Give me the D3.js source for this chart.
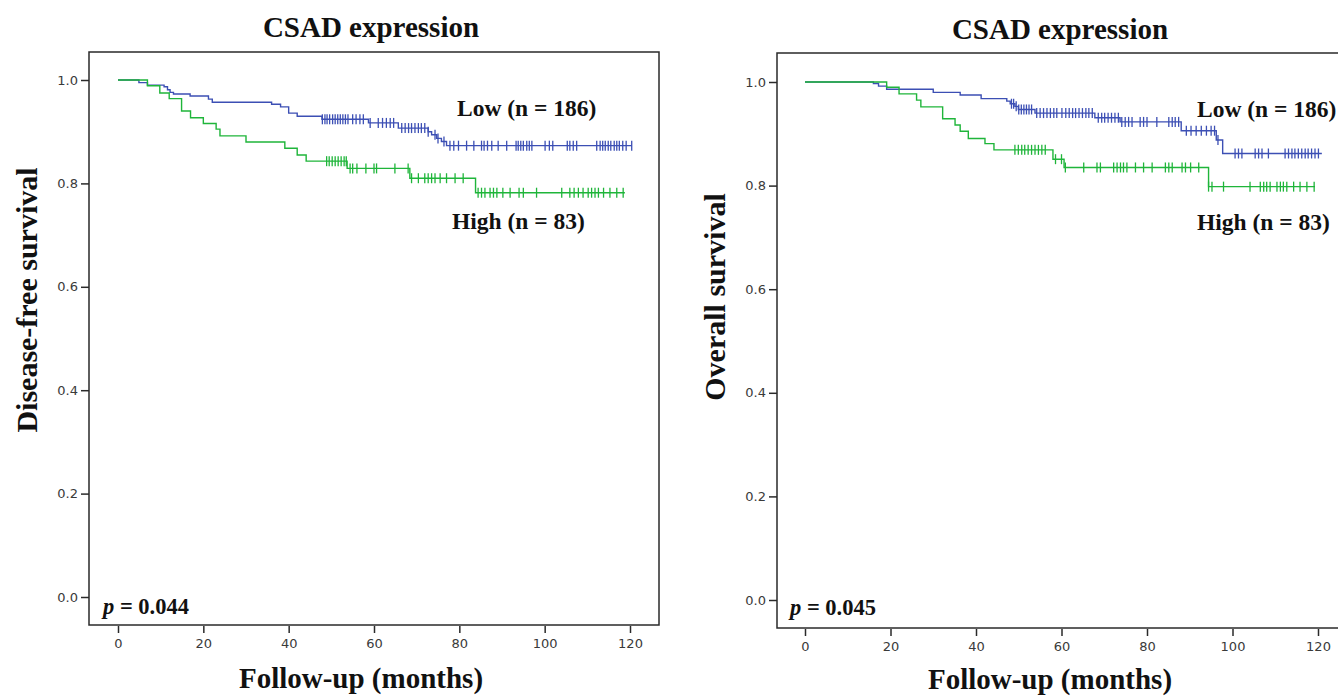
<!DOCTYPE html>
<html>
<head>
<meta charset="utf-8">
<script src="https://cdn.jsdelivr.net/npm/d3@7/dist/d3.min.js"></script>
<style>
  html, body { margin: 0; padding: 0; background: #fff; }
  svg { display: block; }
  .tick-lbl { font-family: "DejaVu Sans", sans-serif; font-size: 13px; fill: #3a3a3a; }
  .serif { font-family: "Liberation Serif", "Times New Roman", serif; font-weight: bold; fill: #111; }
</style>
</head>
<body>
<svg id="chart" width="1338" height="696"></svg>
<script>
// x/y tick values
const xTicks = [0, 20, 40, 60, 80, 100, 120];
const yTicks = [0, 0.2, 0.4, 0.6, 0.8, 1.0];

// Disease-free survival, Low (n = 186)
const dfsLowT = [0, 4.9, 6.9, 10.8, 11.6, 12.2, 13.0, 16.9, 21.2, 22.1, 36.0, 38.1, 40.0, 42.0, 47.8, 58.7, 65.7, 72.7, 73.5, 74.7, 75.8, 77.0];
const dfsLowS = [1.0, 0.995, 0.990, 0.987, 0.981, 0.976, 0.973, 0.969, 0.963, 0.957, 0.953, 0.948, 0.936, 0.930, 0.924, 0.917, 0.907, 0.900, 0.894, 0.887, 0.881, 0.873];
const dfsLowEnd = 120.4;
const dfsLowCens = [47.9, 48.5, 49, 49.6, 50.3, 50.9, 51.5, 52.1, 52.7, 53.3, 53.9, 55, 55.8, 56.7, 57.5, 59.1, 61, 62, 62.9, 63.8, 64.6, 66.5, 67.3, 68.1, 68.8, 69.6, 70.4, 71.1, 71.9, 72.7, 74.3, 75.0, 76.4, 77.8, 78.7, 79.8, 81.7, 83.4, 85.2, 85.8, 86.6, 87.6, 89.1, 91.1, 93.3, 93.8, 94.4, 95, 95.8, 96.4, 97, 100.1, 101.1, 101.9, 105.3, 105.9, 106.7, 107.5, 112.2, 113, 113.6, 114.2, 114.9, 115.5, 116.3, 116.9, 117.5, 118.3, 119.1, 120.4];

// Disease-free survival, High (n = 83)
const dfsHighT = [0, 6.9, 9.8, 12.0, 14.9, 17.0, 20.0, 23.0, 23.9, 30.0, 39.1, 42.0, 44.1, 53.7, 68.4, 83.8];
const dfsHighS = [1.0, 0.989, 0.975, 0.964, 0.940, 0.927, 0.916, 0.905, 0.892, 0.880, 0.868, 0.855, 0.843, 0.829, 0.810, 0.782];
const dfsHighEnd = 118.8;
const dfsHighCens = [48.9, 49.5, 50.2, 50.9, 51.6, 52.3, 53.0, 53.5, 54.4, 55.0, 56.0, 58.1, 60.0, 60.6, 64.9, 68.0, 68.8, 70.4, 71.9, 72.7, 73.5, 74.3, 75.5, 77.0, 79.0, 80.9, 84.4, 85.2, 86.0, 87.2, 88.0, 88.8, 90.2, 91.9, 94.0, 95.0, 98.1, 104.0, 105.9, 106.9, 107.9, 109.0, 110.2, 111.0, 111.8, 112.6, 113.8, 115.3, 116.9, 118.4];

// Overall survival, Low (n = 186)
const osLowT = [0, 16.0, 17.2, 19.1, 30.0, 36.3, 41.2, 47.2, 48.0, 49.1, 49.9, 53.8, 67.8, 73.7, 88.0, 96.2, 97.7];
const osLowS = [1.0, 0.997, 0.992, 0.986, 0.980, 0.975, 0.968, 0.963, 0.958, 0.953, 0.947, 0.940, 0.931, 0.923, 0.906, 0.888, 0.862];
const osLowEnd = 120.9;
const osLowCens = [48.3, 48.8, 49.4, 50.0, 50.6, 51.2, 51.8, 52.4, 53.0, 54.2, 55.0, 55.8, 56.6, 57.4, 58.2, 58.9, 60.1, 61.0, 61.8, 62.6, 63.3, 64.1, 64.9, 65.7, 66.4, 67.2, 68.6, 69.4, 70.1, 70.9, 71.7, 72.5, 73.3, 74.1, 74.9, 75.7, 76.5, 78.4, 79.2, 80.0, 82.3, 85.1, 85.9, 86.6, 87.4, 89.2, 90.3, 91.5, 92.7, 93.9, 95.0, 95.8, 96.6, 100.6, 101.4, 102.2, 105.3, 106.1, 106.9, 108.4, 112.3, 113.1, 113.9, 114.6, 115.4, 116.2, 117.0, 117.7, 118.5, 119.3, 120.1];

// Overall survival, High (n = 83)
const osHighT = [0, 19.1, 22.0, 26.1, 27.1, 32.2, 35.1, 36.3, 38.2, 42.1, 44.2, 58.0, 60.6, 94.4];
const osHighS = [1.0, 0.990, 0.977, 0.965, 0.952, 0.929, 0.917, 0.905, 0.891, 0.881, 0.869, 0.851, 0.835, 0.798];
const osHighEnd = 119.3;
const osHighCens = [49.1, 49.9, 50.7, 51.4, 52.2, 53.0, 53.8, 54.6, 55.4, 56.2, 58.6, 60.0, 60.9, 65.2, 68.3, 69.1, 72.2, 73.0, 73.8, 74.5, 75.3, 77.3, 79.2, 81.2, 84.3, 85.1, 85.9, 88.2, 89.0, 90.2, 92.1, 94.4, 95.2, 97.9, 104.1, 106.5, 107.3, 108.0, 108.8, 110.4, 111.2, 111.9, 112.7, 114.3, 115.8, 117.4, 119.1];

const BLUE = '#3c4fb4', GREEN = '#1fb53a';
const svg = d3.select('#chart');

function panel(p) {
  const g = svg.append('g');
  const x = d3.scaleLinear().domain([0, 120]).range([p.x0, p.x1]);
  const y = d3.scaleLinear().domain([0, 1]).range([p.y0, p.y1]);

  // frame
  g.append('rect').attr('x', p.fx0).attr('y', p.fy0).attr('width', p.fx1 - p.fx0).attr('height', p.fy1 - p.fy0)
    .attr('fill', 'none').attr('stroke', '#2a2a2a').attr('stroke-width', 1.5);

  // y axis
  const ya = g.append('g').attr('transform', `translate(${p.fx0},0)`)
    .call(d3.axisLeft(y).tickValues(yTicks).tickFormat(d3.format('.1f')).tickSize(8).tickPadding(3));
  ya.select('.domain').remove();
  ya.selectAll('line').attr('stroke', '#2a2a2a').attr('stroke-width', 1.5);
  ya.selectAll('text').attr('class', 'tick-lbl').attr('font-size', null).attr('font-family', null).attr('fill', null);

  // x axis
  const xa = g.append('g').attr('transform', `translate(0,${p.fy1 + 1})`)
    .call(d3.axisBottom(x).tickValues(xTicks).tickSize(7).tickPadding(6));
  xa.select('.domain').remove();
  xa.selectAll('line').attr('stroke', '#2a2a2a').attr('stroke-width', 1.5);
  xa.selectAll('text').attr('class', 'tick-lbl').attr('font-size', null).attr('font-family', null).attr('fill', null);

  const line = d3.line().x((d) => x(d[0])).y((d) => y(d[1])).curve(d3.curveStepAfter);
  p.curves.forEach((c) => {
    const pts = c.t.map((t, i) => [t, c.s[i]]);
    pts.push([c.end, c.s[c.s.length - 1]]);
    g.append('path').datum(pts).attr('d', line).attr('fill', 'none')
      .attr('stroke', c.color).attr('stroke-width', 1.4);
    const at = (t) => c.s[d3.bisectRight(c.t, t) - 1];
    g.append('g').selectAll('line').data(c.cens).join('line')
      .attr('x1', (t) => x(t)).attr('x2', (t) => x(t))
      .attr('y1', (t) => y(at(t)) - 5).attr('y2', (t) => y(at(t)) + 5)
      .attr('stroke', c.color).attr('stroke-width', 1.3);
  });

  // titles
  g.append('text').attr('class', 'serif').attr('x', p.titleX).attr('y', p.titleY)
    .attr('text-anchor', 'middle').attr('font-size', 29).text('CSAD expression');
  g.append('text').attr('class', 'serif').attr('text-anchor', 'middle').attr('font-size', 30)
    .attr('transform', `translate(${p.yLabX},${p.yLabY}) rotate(-90)`).text(p.yLabel);
  g.append('text').attr('class', 'serif').attr('x', p.xLabX).attr('y', p.xLabY)
    .attr('text-anchor', 'middle').attr('font-size', 29).text('Follow-up (months)');
  g.append('text').attr('class', 'serif').attr('x', p.lowX).attr('y', p.lowY)
    .attr('font-size', 23.5).text('Low (n = 186)');
  g.append('text').attr('class', 'serif').attr('x', p.highX).attr('y', p.highY)
    .attr('font-size', 23.5).text('High (n = 83)');
  const pt = g.append('text').attr('class', 'serif').attr('x', p.pX).attr('y', p.pY).attr('font-size', 22.5);
  pt.append('tspan').attr('font-style', 'italic').text('p');
  pt.append('tspan').text(' = ' + p.pVal);
}

panel({
  x0: 118, x1: 630, y0: 597, y1: 80, fx0: 89, fx1: 659, fy0: 52, fy1: 625,
  titleX: 371, titleY: 37, yLabel: 'Disease-free survival', yLabX: 37, yLabY: 300,
  xLabX: 361, xLabY: 688, lowX: 457, lowY: 116, highX: 452, highY: 229,
  pX: 103, pY: 614, pVal: '0.044',
  curves: [
    { t: dfsLowT, s: dfsLowS, end: dfsLowEnd, cens: dfsLowCens, color: BLUE },
    { t: dfsHighT, s: dfsHighS, end: dfsHighEnd, cens: dfsHighCens, color: GREEN },
  ],
});

panel({
  x0: 805, x1: 1318, y0: 600, y1: 82, fx0: 777, fx1: 1348, fy0: 53, fy1: 628,
  titleX: 1060, titleY: 39, yLabel: 'Overall survival', yLabX: 725, yLabY: 297,
  xLabX: 1050, xLabY: 689, lowX: 1197, lowY: 117, highX: 1197, highY: 230,
  pX: 790, pY: 615, pVal: '0.045',
  curves: [
    { t: osLowT, s: osLowS, end: osLowEnd, cens: osLowCens, color: BLUE },
    { t: osHighT, s: osHighS, end: osHighEnd, cens: osHighCens, color: GREEN },
  ],
});
</script>
</body>
</html>
